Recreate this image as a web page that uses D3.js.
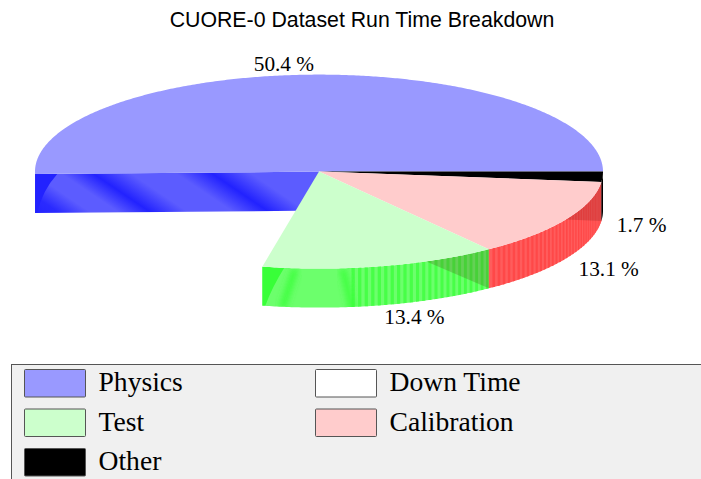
<!DOCTYPE html>
<html><head><meta charset="utf-8">
<script src="https://cdn.jsdelivr.net/npm/d3@7"></script>
<style>html,body{margin:0;padding:0;background:#fff;overflow:hidden}svg{display:block}</style>
</head><body><svg id="c" width="701" height="479"></svg>
<script>
const titleText = "CUORE-0 Dataset Run Time Breakdown";
const categories = ["Physics", "Down Time", "Test", "Calibration", "Other"];
const shares = [50.4, 21.4, 13.4, 13.1, 1.7];
const topColors = ["#9999ff", "#ffffff", "#ccffcc", "#ffcccc", "#000000"];
const labelled = ["Physics", "Test", "Calibration", "Other"];

const W = 701, H = 479;
const cx = 319, cy = 171.6, rx = 284, ry = 97, depth = 39;
const startDeg = 90;
const labelOffsets = {Physics:[-31.5,-3.6], Test:[33.5,57.9], Calibration:[43,55.9], Other:[39,54.9]};
const rad = Math.PI/180;

const svg = d3.select("#c");
const defs = svg.append("defs");
svg.append("rect").attr("width",W).attr("height",H).attr("fill","#fff");

const pie = d3.pie().sort(null).startAngle(startDeg*rad).endAngle((startDeg-360)*rad);
const slices = pie(shares).map((d,i)=>({...d,name:categories[i],color:topColors[i]}));
const by = n => slices.find(s=>s.name===n);

const px = a => cx + rx*Math.sin(a);
const py = (a,dz=0) => cy - ry*Math.cos(a) + dz;
const samples = (a0,a1) => { const n=Math.max(2,Math.ceil(Math.abs(a1-a0)/(0.5*rad))); return d3.range(n+1).map(i=>a0+(a1-a0)*i/n); };
const line = d3.line();
const topPath = s => line([[cx,cy],...samples(s.startAngle,s.endAngle).map(a=>[px(a),py(a)])])+"Z";
const wallPath = (a0,a1) => {
  const t=samples(a0,a1).map(a=>[px(a),py(a)]);
  const b=samples(a1,a0).map(a=>[px(a),py(a,depth)]);
  return line([...t,...b])+"Z";
};

const blue = defs.append("linearGradient").attr("id","blueBand").attr("gradientUnits","userSpaceOnUse")
  .attr("x1",0).attr("x2",330).attr("y1",0).attr("y2",0)
  .attr("gradientTransform","translate(0,193) skewX(56) translate(0,-193)");
[[0,"#2222ff"],[30,"#2a2aff"],[62,"#5c5cff"],[90,"#5c5cff"],[122,"#2222ff"],[160,"#5c5cff"],[205,"#5c5cff"],[241,"#2222ff"],[280,"#5c5cff"],[330,"#5c5cff"]]
  .forEach(([o,c])=>blue.append("stop").attr("offset",o/330).attr("stop-color",c));
defs.append("filter").attr("id","soft").attr("x","-50%").attr("y","-20%").attr("width","200%").attr("height","140%")
  .append("feGaussianBlur").attr("stdDeviation",3.2);

const phys=by("Physics"), test=by("Test"), cal=by("Calibration"), oth=by("Other");
const wall = svg.append("g");

// Physics radial wall
const w0 = phys.endAngle;
wall.append("path").attr("fill","url(#blueBand)")
  .attr("d",line([[cx,cy],[px(w0),py(w0)],[px(w0),py(w0,depth)],[cx,cy+depth]])+"Z");
const pStep = 0.078;
wall.append("path").attr("fill","#2222ff")
  .attr("d",`M${px(w0)},${py(w0)}L${px(w0)+(cx-px(w0))*pStep},${py(w0)}Q${px(w0)+7},${py(w0)+17} ${px(w0)+2},${py(w0,depth)}L${px(w0)},${py(w0,depth)}Z`);

function curved(s, base, stripe, shadow, shadowDeg, stripeBelowDeg){
  const hi=s.startAngle, lo=s.endAngle;
  wall.append("path").attr("fill",base).attr("d",wallPath(hi,lo));
  const step=0.67*rad;
  let a=lo, k=0;
  while(a+step<hi){
    if(k%2===0 && (stripeBelowDeg===null || a<stripeBelowDeg*rad))
      wall.append("path").attr("fill",stripe).attr("d",wallPath(a,a+step));
    a+=step;k++;
  }
  if(shadow){
    const a2=lo+shadowDeg*rad;
    const arc=samples(lo,a2).map(v=>[px(v),py(v)]);
    wall.append("path").attr("fill",shadow)
      .attr("d",line([...arc,[px(lo),py(lo,depth)]])+"Z");
  }
}

// Test wall
curved(test,"#6cff6c","#47ff47","rgba(70,40,0,.21)",14.5,-186);
const clipT=defs.append("clipPath").attr("id","testClip");
clipT.append("path").attr("d",wallPath(test.startAngle,test.endAngle));
const tg=wall.append("g").attr("clip-path","url(#testClip)");
const te=test.startAngle;
const x0=px(te), y0=py(te);
[[[x0+33,y0+2],[x0+27,y0+20],[x0+20,y0+42]],
 [[x0+80,y0+2],[x0+85,y0+18],[x0+90,y0+44]]]
 .forEach(p=>tg.append("path").attr("fill","none").attr("stroke","#38ff38").attr("stroke-width",6).attr("filter","url(#soft)")
    .attr("d",`M${p[0]}Q${p[1]} ${p[2]}`));
tg.append("path").attr("fill","#38ff38")
  .attr("d",`M${x0},${y0}L${x0+22},${y0+1}Q${x0+10},${y0+20} ${x0+3},${y0+depth}L${x0},${y0+depth}Z`);

// Calibration wall
curved(cal,"#ff5c5c","#ff4848","rgba(60,0,0,.16)",23.5,null);
// Other wall
wall.append("path").attr("fill","#000").attr("d",wallPath(oth.startAngle,oth.endAngle));

// Tops
["Physics","Other","Calibration","Test"].forEach(n=>{
  const s=by(n);
  svg.append("path").attr("d",topPath(s)).attr("fill",s.color);
});

// Title
svg.append("text").attr("x",362).attr("y",27).attr("text-anchor","middle")
  .attr("font-family","'Liberation Sans',sans-serif").attr("font-size",21.3).attr("fill","#000").text(titleText);

// Percent labels
labelled.forEach(n=>{
  const s=by(n), m=(s.startAngle+s.endAngle)/2, off=labelOffsets[n];
  svg.append("text").attr("x",px(m)+off[0]).attr("y",py(m)+off[1]).attr("text-anchor","middle")
    .attr("font-family","'Liberation Serif',serif").attr("font-size",21.3).attr("fill","#000")
    .text(s.value.toFixed(1)+" %");
});

// Legend
svg.append("rect").attr("x",11.5).attr("y",364.5).attr("width",800).attr("height",200)
  .attr("fill","#f0f0f0").attr("stroke","#555").attr("stroke-width",1);
const colX = d3.scaleOrdinal().domain([0,1]).range([24,315]);
const rowY = d3.scaleLinear().domain([0,2]).range([369,448]);
const items = svg.append("g").selectAll("g").data(slices).join("g")
  .attr("transform",(d,i)=>`translate(${colX(i%2)},${rowY(Math.floor(i/2))})`);
items.append("rect").attr("x",0.5).attr("y",0.5).attr("width",61).attr("height",27.5).attr("rx",1)
  .attr("fill",d=>d.color).attr("stroke","#555");
items.append("text").attr("x",74.5).attr("y",22).attr("font-family","'Liberation Serif',serif")
  .attr("font-size",27.6).attr("fill","#000").text(d=>d.name);
</script></body></html>
